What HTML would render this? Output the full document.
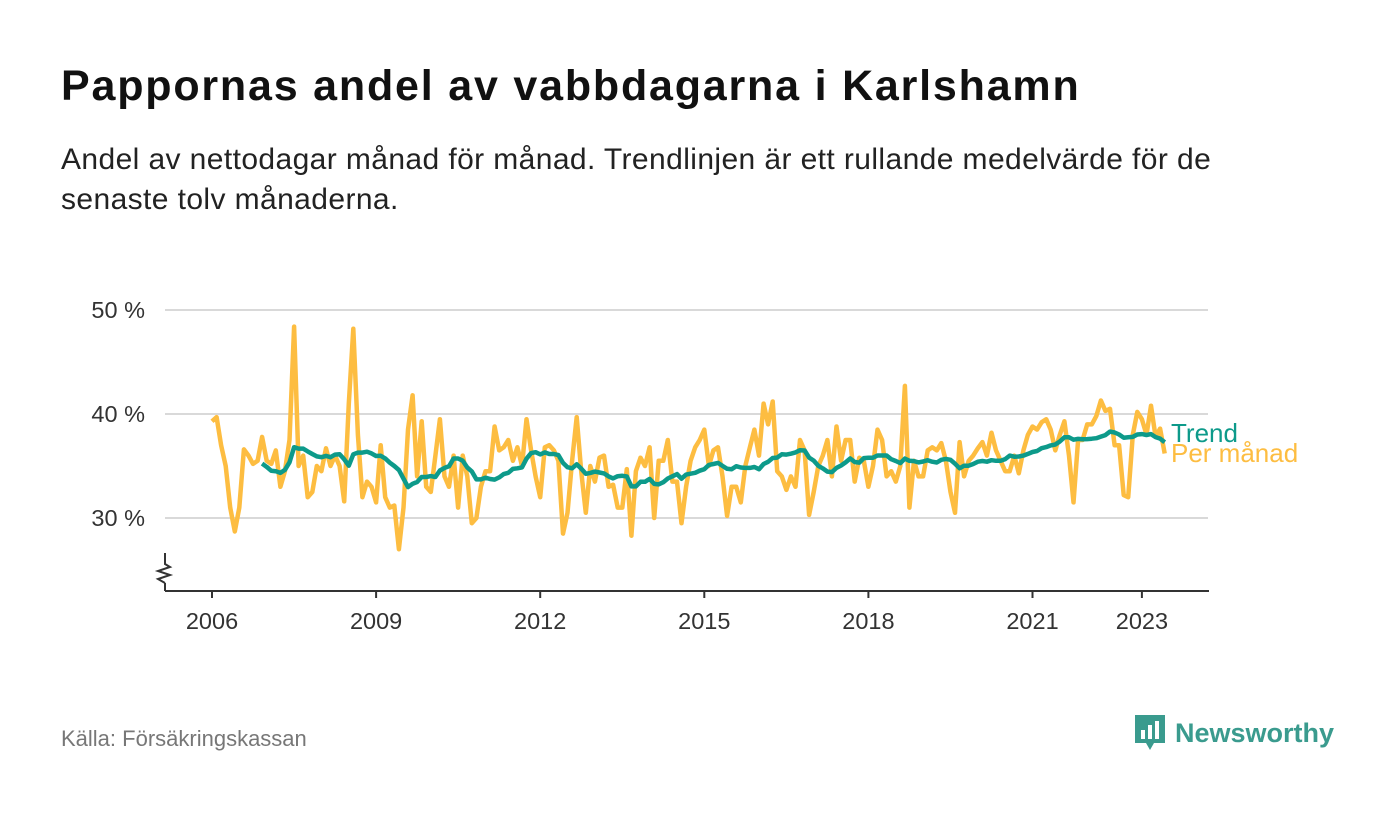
<!DOCTYPE html>
<html><head><meta charset="utf-8">
<style>
body{margin:0;width:1400px;height:813px;background:#fff;font-family:"Liberation Sans","DejaVu Sans",sans-serif;overflow:hidden;position:relative}
h1{position:absolute;left:61px;top:62px;margin:0;font-size:43px;font-weight:bold;color:#111;letter-spacing:1.8px;white-space:nowrap}
.sub{position:absolute;left:61px;top:140px;width:1240px;font-size:30px;letter-spacing:0.4px;line-height:40px;color:#222}
.src{position:absolute;left:61px;top:726px;font-size:22px;color:#777}
.logo{position:absolute;left:1133px;top:713px;display:flex;align-items:center;gap:8px}
.logo span{font-size:27px;font-weight:bold;color:#3a9b8e}
</style></head><body>
<h1>Pappornas andel av vabbdagarna i Karlshamn</h1>
<div class="sub">Andel av nettodagar månad för månad. Trendlinjen är ett rullande medelvärde för de senaste tolv månaderna.</div>
<svg id="chart" width="1400" height="813" style="position:absolute;left:0;top:0"></svg>
<div class="src">Källa: Försäkringskassan</div>
<div class="logo">
<svg width="34" height="40" viewBox="0 0 34 40"><path d="M2 2h30v28H21l-4 7-4-7H2z" fill="#3a9b8e"/><rect x="8" y="17" width="4" height="9" fill="#fff"/><rect x="15" y="12" width="4" height="14" fill="#fff"/><rect x="22" y="8" width="4" height="18" fill="#fff"/></svg>
<span>Newsworthy</span></div>
<script>
const startYear = 2006;
const monthly = [
39.3,39.7,37,35,31,28.7,31,36.6,36,35.2,35.5,37.8,
35.5,35.2,36.5,33,34.5,37.5,48.4,35,36,32,32.5,35,
34.5,36.7,35,36,35,31.6,41,48.2,38,32,33.5,33,
31.5,37,32,31,31.2,27,31,38.5,41.8,34,39.3,33,
32.5,36,39.5,34,33,36,31,36,34,29.5,30,33,
34.5,34.5,38.8,36.5,36.8,37.5,35.5,36.8,35,39.5,36.5,34,
32,36.8,37,36.5,35.5,28.5,30.5,35.5,39.7,34.5,30.5,35,
33.5,35.8,36,33,33.2,31,31,34.7,28.3,34.5,35.8,35,
36.8,30,35.5,35.5,37.5,33.5,33.5,29.5,33,35.5,36.8,37.5,
38.5,35,36.5,36.8,34,30.2,33,33,31.5,35,36.8,38.5,
36,41,39,41.2,34.5,34,32.7,34,33,37.5,36.5,30.3,
32.5,35,36,37.5,34,38.8,35.5,37.5,37.5,33.5,35.8,35.5,
33,35,38.5,37.5,34,34.5,33.5,35,42.7,31,35.5,34,
34,36.5,36.8,36.5,37.2,35.5,32.5,30.5,37.3,34,35.5,36,
36.7,37.3,36,38.2,36.5,35.5,34.5,34.5,36,34.3,36.5,38,
38.8,38.5,39.2,39.5,38.5,36.5,38,39.3,36,31.5,37.5,37.5,
39,39,39.8,41.3,40.3,40.5,37,37,32.2,32,38,40.2,
39.5,38,40.8,37.8,38.6,36.2
];
const yTicks = [30,40,50];
const xTicks = [2006,2009,2012,2015,2018,2021,2023];
const NS="http://www.w3.org/2000/svg";
const svg=document.getElementById('chart');
const x = t => 212 + (t-2006)*54.7;
const y = v => 414 - (v-40)*10.4;
const mx = i => x(startYear + i/12);
function mk(tag,attrs,parent){const e=document.createElementNS(NS,tag);for(const k in attrs)e.setAttribute(k,attrs[k]);(parent||svg).appendChild(e);return e;}
yTicks.forEach(v=>{
  const g=mk('line',{x1:165,x2:1208,y1:y(v),y2:y(v),stroke:'#d9d9d9','stroke-width':2});
  
  
  const t=mk('text',{x:145,y:y(v)+8,'text-anchor':'end','font-size':23.5,fill:'#333'});
  t.textContent=v+' %';
  
  
});
const ax=mk('line',{x1:165,x2:1209,y1:591,y2:591,stroke:'#333','stroke-width':2});


const yb=mk('path',{d:'M165 591V583 M165 583l-7-4 12-4-12-4 12-4-5-3V553',fill:'none',stroke:'#333','stroke-width':2});


xTicks.forEach(t=>{
  const l=mk('line',{x1:x(t),x2:x(t),y1:591,y2:598,stroke:'#333','stroke-width':2});
  
  
  const tx=mk('text',{x:x(t),y:629,'text-anchor':'middle','font-size':23.5,fill:'#333'});
  tx.textContent=t;
  
  
});
const mp=mk('path',{d:monthly.map((v,i)=>(i?'L':'M')+mx(i).toFixed(1)+' '+y(v).toFixed(1)).join(''),fill:'none',stroke:'#fdbd41','stroke-width':4.5,'stroke-linejoin':'round'});


let td='';
for(let i=11;i<monthly.length;i++){let s=0;for(let j=i-11;j<=i;j++)s+=monthly[j];td+=(i>11?'L':'M')+mx(i).toFixed(1)+' '+y(s/12).toFixed(1);}
const tp=mk('path',{d:td,fill:'none',stroke:'#0d9a8a','stroke-width':4.5,'stroke-linejoin':'round'});


const l1=mk('text',{x:1171,y:442,'font-size':26,fill:'#0d9a8a'});l1.textContent='Trend';


const l2=mk('text',{x:1171,y:462,'font-size':26,fill:'#fdbd41'});l2.textContent='Per månad';


</script>
</body></html>
